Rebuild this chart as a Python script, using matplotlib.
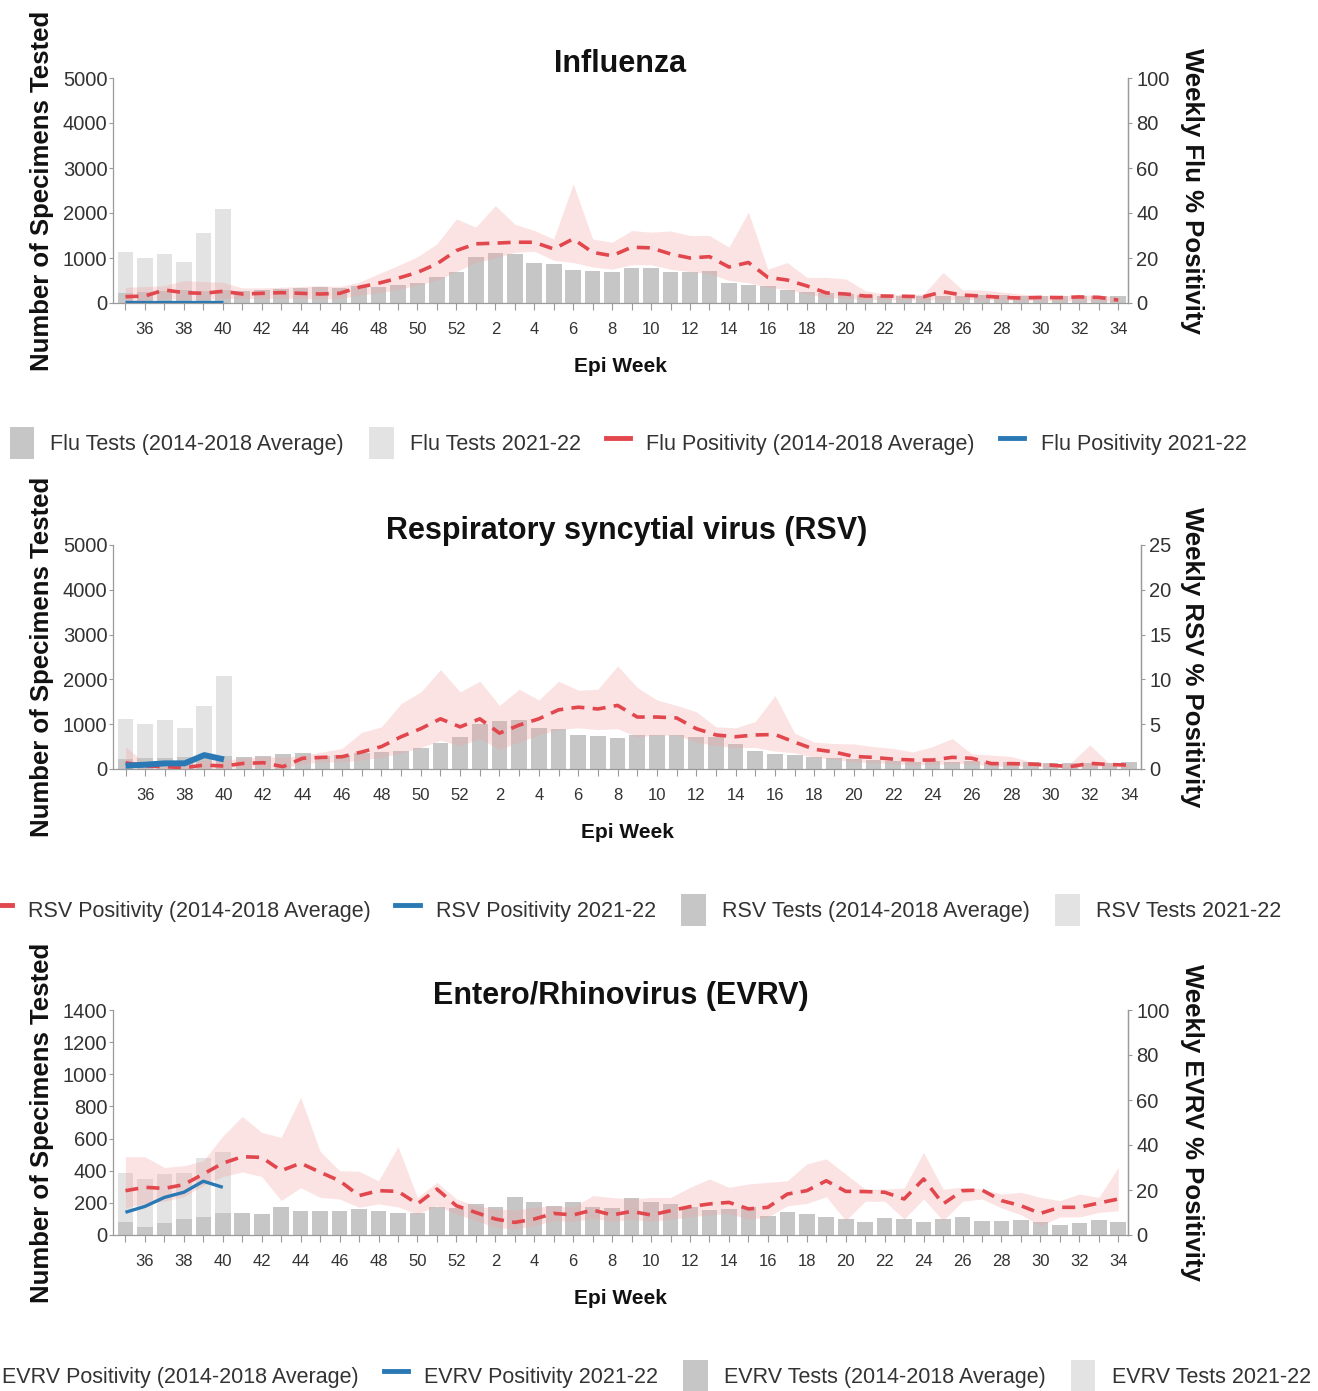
import matplotlib
matplotlib.use("Agg")
import matplotlib.pyplot as plt
from matplotlib.patches import Patch
from matplotlib.lines import Line2D

plt.rcParams['font.family'] = ['Liberation Sans', 'DejaVu Sans']

# epi weeks, season 2021-22 layout (35..52, 1..34)
weeks = [35, 36, 37, 38, 39, 40, 41, 42, 43, 44, 45, 46, 47, 48, 49, 50, 51, 52,
         1, 2, 3, 4, 5, 6, 7, 8, 9, 10, 11, 12, 13, 14, 15, 16, 17, 18, 19, 20,
         21, 22, 23, 24, 25, 26, 27, 28, 29, 30, 31, 32, 33, 34]

# ---- Influenza
flu_tests_avg = [230, 250, 260, 280, 270, 290,
                 275, 290, 310, 335, 350, 335, 370, 365, 400, 445, 570, 680,
                 1030, 1105, 1090, 890, 870, 735, 720, 680, 770, 770,
                 690, 680, 720, 440, 400, 370, 300, 250, 220, 200,
                 180, 165, 155, 155, 155, 165, 170, 170, 155, 150, 150, 155, 155, 150]
flu_tests_cur = [1130, 1010, 1085, 920, 1560, 2080]
flu_pos_avg = [2.8, 3.1, 5.8, 4.6, 4.3, 5.2,
               4.0, 4.3, 4.6, 4.3, 4.0, 4.3, 7.0, 8.8, 11.0, 13.6, 17.4, 23.3,
               26.3, 26.6, 27.0, 27.0, 24.0, 28.5, 22.5, 21.0, 24.8, 24.5,
               21.8, 20.0, 20.6, 16.0, 18.0, 11.4, 10.2, 7.6, 4.5, 4.0,
               3.1, 3.1, 3.0, 2.8, 5.0, 3.5, 3.1, 2.5, 2.2, 2.5, 2.4, 2.7, 2.5, 1.3]
flu_pos_hi = [7.0, 7.3, 7.7, 10.0, 9.5, 9.2,
              6.7, 6.7, 7.0, 7.3, 7.7, 7.3, 9.2, 13.0, 16.6, 20.6, 26.3, 37.4,
              33.7, 43.3, 35.0, 32.2, 28.5, 53.0, 28.5, 27.0, 32.2, 31.5,
              32.0, 30.0, 30.0, 24.8, 40.4, 15.0, 18.0, 11.4, 11.4, 10.7,
              5.5, 4.0, 3.7, 4.0, 13.6, 5.8, 5.8, 4.9, 4.0, 3.4, 3.4, 3.4, 3.7, 2.5]
flu_pos_lo = [1.0, 1.2, 2.0, 1.5, 1.5, 2.0,
              2.0, 2.0, 2.2, 2.0, 1.8, 2.0, 3.5, 4.5, 6.0, 8.0, 10.0, 14.0,
              18.0, 20.0, 22.5, 23.0, 19.0, 18.0, 16.0, 15.0, 17.0, 17.0,
              15.0, 14.0, 13.0, 10.0, 9.0, 7.0, 6.0, 4.0, 2.5, 2.0,
              1.5, 1.5, 1.4, 1.3, 1.5, 1.5, 1.4, 1.2, 1.0, 1.0, 1.0, 1.0, 1.0, 0.5]
flu_pos_cur = [0.3, 0.3, 0.3, 0.3, 0.3, 0.3]

# ---- RSV
rsv_tests_avg = [220, 240, 250, 270, 260, 280,
                 274, 290, 326, 363, 290, 311, 348, 370, 400, 460, 570, 720,
                 1015, 1074, 1100, 920, 890, 755, 733, 696, 770, 770,
                 770, 720, 720, 555, 400, 333, 311, 274, 237, 215,
                 200, 185, 155, 178, 155, 178, 148, 155, 155, 126, 126, 126, 126, 155]
rsv_tests_cur = [1126, 1015, 1100, 920, 1400, 2074]
rsv_pos_avg = [0.7, 0.33, 0.26, 0.15, 0.44, 0.33,
               0.63, 0.7, 0.26, 1.2, 1.3, 1.37, 1.9, 2.5, 3.6, 4.5, 5.6, 4.7,
               5.6, 4.0, 4.9, 5.6, 6.6, 6.9, 6.7, 7.1, 5.8, 5.8,
               5.7, 4.5, 3.8, 3.6, 3.8, 3.85, 3.0, 2.2, 1.9, 1.4,
               1.3, 1.1, 1.0, 1.0, 1.3, 1.2, 0.6, 0.6, 0.55, 0.44, 0.26, 0.63, 0.5, 0.44]
rsv_pos_hi = [2.5, 0.6, 0.55, 0.6, 1.0, 1.0,
              1.2, 1.4, 1.3, 1.55, 1.9, 2.3, 4.1, 4.7, 7.3, 8.6, 11.1, 8.6,
              9.8, 7.1, 8.9, 7.7, 9.8, 8.8, 8.9, 11.5, 9.1, 7.7,
              7.1, 6.4, 4.7, 4.6, 5.3, 8.2, 4.0, 3.0, 2.85, 2.8,
              2.5, 2.3, 1.9, 2.5, 3.4, 1.7, 1.55, 1.4, 0.8, 0.6, 0.6, 2.7, 0.6, 0.44]
rsv_pos_lo = [0.1, 0.1, 0.05, 0.0, 0.1, 0.05,
              0.2, 0.2, 0.05, 0.6, 0.8, 0.8, 1.0, 1.3, 1.8, 2.4, 3.2, 2.6,
              3.4, 2.2, 3.0, 3.8, 4.4, 4.6, 4.4, 4.5, 3.6, 3.8,
              3.8, 3.0, 2.6, 2.4, 2.4, 2.0, 1.8, 1.3, 1.1, 0.8,
              0.7, 0.6, 0.5, 0.5, 0.6, 0.6, 0.3, 0.3, 0.3, 0.2, 0.1, 0.2, 0.2, 0.2]
rsv_pos_cur = [0.37, 0.48, 0.63, 0.63, 1.55, 1.07]

# ---- EVRV
ev_tests_avg = [83, 52, 75, 97, 110, 135,
                137, 133, 172, 151, 147, 147, 162, 149, 135, 137, 172, 166,
                193, 172, 239, 203, 183, 203, 172, 166, 228, 203,
                193, 172, 156, 162, 172, 120, 141, 131, 114, 100,
                83, 104, 100, 79, 100, 114, 85, 85, 93, 83, 64, 73, 93, 79]
ev_tests_cur = [386, 350, 380, 384, 480, 515]
ev_pos_avg = [19.7, 21.2, 20.7, 22.4, 27.1, 31.9,
              34.8, 34.5, 28.6, 31.9, 27.9, 24.1, 17.5, 19.7, 19.4, 13.8, 20.4, 13.0,
              10.0, 7.1, 5.6, 7.1, 9.6, 8.9, 11.1, 8.9, 10.5, 8.9,
              10.8, 12.6, 13.8, 14.5, 11.6, 12.3, 18.2, 19.7, 24.1, 19.4,
              19.3, 19.0, 16.0, 24.9, 13.8, 19.7, 20.0, 15.3, 13.0, 9.6, 12.3, 12.3, 14.2, 16.0]
ev_pos_hi = [34.8, 34.8, 30.0, 30.8, 33.0, 44.0,
             52.7, 45.6, 43.4, 61.2, 37.2, 28.6, 28.3, 24.1, 39.3, 16.7, 23.4, 16.0,
             13.0, 11.6, 11.1, 12.3, 13.0, 12.3, 17.5, 16.7, 16.0, 16.7,
             16.7, 21.2, 24.9, 21.2, 22.7, 23.4, 24.1, 31.6, 33.8, 27.1,
             20.4, 20.4, 20.9, 36.7, 20.4, 21.2, 20.4, 18.2, 19.0, 16.7, 15.3, 18.2, 16.7, 30.0]
ev_pos_lo = [12.0, 14.0, 15.0, 17.0, 22.0, 26.0,
             28.0, 26.0, 15.3, 21.0, 16.7, 16.0, 12.3, 13.8, 12.5, 9.3, 13.0, 9.3,
             6.4, 3.4, 2.7, 4.1, 6.5, 6.0, 7.5, 6.0, 7.0, 6.0,
             7.0, 8.0, 9.0, 9.5, 7.0, 8.0, 13.0, 14.0, 17.0, 6.4,
             15.0, 15.0, 7.1, 16.0, 6.4, 15.0, 16.0, 12.0, 9.0, 4.1, 8.0, 8.0, 10.0, 10.8]
ev_pos_cur = [10.1, 12.7, 16.7, 19.0, 23.9, 21.2]

GRAY_AVG = '#c6c6c6'
GRAY_CUR = '#e3e3e3'
RED = '#e2474d'
BAND = '#f4a4a4'
BLUE = '#2a78b4'
AXC = '#9a9a9a'
TXT = '#333333'

W, H = 1318, 1391
fig = plt.figure(figsize=(W / 100, H / 100), dpi=100)


def panel(top_px, bot_px, right_px, title, rlabel, lmax, lstep, rmax, rstep,
          t_avg, t_cur, p_avg, p_lo, p_hi, p_cur, blue_lw, xmax):
    left_px = 113
    ax = fig.add_axes([left_px / W, 1 - bot_px / H, (right_px - left_px) / W,
                       (bot_px - top_px) / H])
    x = list(range(len(weeks)))
    ax.bar(x[:len(t_cur)], t_cur, width=0.8, color=GRAY_CUR, zorder=1)
    ax.bar(x, t_avg, width=0.8, color=GRAY_AVG, zorder=2)
    ax.set_xlim(-0.64, xmax)
    ax.set_ylim(0, lmax)
    ax.set_yticks(range(0, lmax + 1, lstep))
    ax.set_xticks(x)
    ax.set_xticklabels([str(w) if w % 2 == 0 else '' for w in weeks])
    ax.spines['top'].set_visible(False)
    for s in ['left', 'right', 'bottom']:
        ax.spines[s].set_color(AXC)
        ax.spines[s].set_linewidth(0.9)
    ax.tick_params(axis='x', length=5, width=0.8, color=AXC, pad=8.5,
                   labelsize=12, labelcolor=TXT)
    ax.tick_params(axis='y', length=3, width=0.8, color=AXC, pad=1,
                   labelsize=14.5, labelcolor=TXT)

    ax2 = ax.twinx()
    ax2.fill_between(x, p_lo, p_hi, color=BAND, alpha=0.3, linewidth=0, zorder=1)
    ax2.plot(x, p_avg, color=RED, lw=2.6, ls=(0, (3.6, 2.3)), zorder=3)
    ax2.plot(x[:len(p_cur)], p_cur, color=BLUE, lw=blue_lw, zorder=4,
             solid_capstyle='butt')
    ax2.set_ylim(0, rmax)
    ax2.set_yticks(list(range(0, rmax + 1, rstep)))
    for s in ['top', 'left', 'bottom']:
        ax2.spines[s].set_visible(False)
    ax2.spines['right'].set_color(AXC)
    ax2.spines['right'].set_linewidth(0.9)
    ax2.tick_params(axis='y', length=3, width=0.8, color=AXC, pad=3,
                    labelsize=14.5, labelcolor=TXT)

    hpx = bot_px - top_px
    wpx = right_px - left_px
    ax.text(0.5, 1 + 14 / hpx, title, transform=ax.transAxes, ha='center',
            va='center', fontsize=22, fontweight='bold', color='#111111')
    ax.text(0.5, -63 / hpx, 'Epi Week', transform=ax.transAxes, ha='center',
            va='center', fontsize=15, fontweight='bold', color='#111111')
    ax.text((42 - left_px) / wpx, 0.5, 'Number of Specimens Tested',
            transform=ax.transAxes, rotation=90, ha='center', va='center',
            fontsize=18.5, fontweight='bold', color='#111111')
    ax.text((1192 - left_px) / wpx, 0.5, rlabel, transform=ax.transAxes,
            rotation=-90, ha='center', va='center', fontsize=18.5,
            fontweight='bold', color='#111111')
    return ax


def add_legend(y_px, x_frac, items):
    handles, labels = [], []
    for kind, col, lab in items:
        if kind == 'patch':
            handles.append(Patch(facecolor=col, edgecolor='none'))
        else:
            handles.append(Line2D([0], [0], color=col, lw=3.5))
        labels.append(lab)
    fig.legend(handles, labels, loc='center', bbox_to_anchor=(x_frac, 1 - y_px / H),
               ncol=4, frameon=False, fontsize=15.5, handlelength=1.15,
               handleheight=1.9, handletextpad=0.75, columnspacing=1.15,
               borderpad=0, labelcolor=TXT)


panel(78, 303, 1128, 'Influenza', 'Weekly Flu % Positivity', 5000, 1000, 100, 20,
      flu_tests_avg, flu_tests_cur, flu_pos_avg, flu_pos_lo, flu_pos_hi,
      flu_pos_cur, 2.4, 51.5)
add_legend(443, 0.4765, [
    ('patch', GRAY_AVG, 'Flu Tests (2014-2018 Average)'),
    ('patch', GRAY_CUR, 'Flu Tests 2021-22'),
    ('line', RED, 'Flu Positivity (2014-2018 Average)'),
    ('line', BLUE, 'Flu Positivity 2021-22')])

panel(545, 769, 1141, 'Respiratory syncytial virus (RSV)', 'Weekly RSV % Positivity',
      5000, 1000, 25, 5,
      rsv_tests_avg, rsv_tests_cur, rsv_pos_avg, rsv_pos_lo, rsv_pos_hi,
      rsv_pos_cur, 4.3, 51.6)
add_legend(910, 0.481, [
    ('line', RED, 'RSV Positivity (2014-2018 Average)'),
    ('line', BLUE, 'RSV Positivity 2021-22'),
    ('patch', GRAY_AVG, 'RSV Tests (2014-2018 Average)'),
    ('patch', GRAY_CUR, 'RSV Tests 2021-22')])

panel(1010, 1235, 1128, 'Entero/Rhinovirus (EVRV)', 'Weekly EVRV % Positivity',
      1400, 200, 100, 20,
      ev_tests_avg, ev_tests_cur, ev_pos_avg, ev_pos_lo, ev_pos_hi,
      ev_pos_cur, 2.4, 51.5)
add_legend(1376, 0.4825, [
    ('line', RED, 'EVRV Positivity (2014-2018 Average)'),
    ('line', BLUE, 'EVRV Positivity 2021-22'),
    ('patch', GRAY_AVG, 'EVRV Tests (2014-2018 Average)'),
    ('patch', GRAY_CUR, 'EVRV Tests 2021-22')])

fig.savefig('out.png', dpi=100, facecolor='white')
